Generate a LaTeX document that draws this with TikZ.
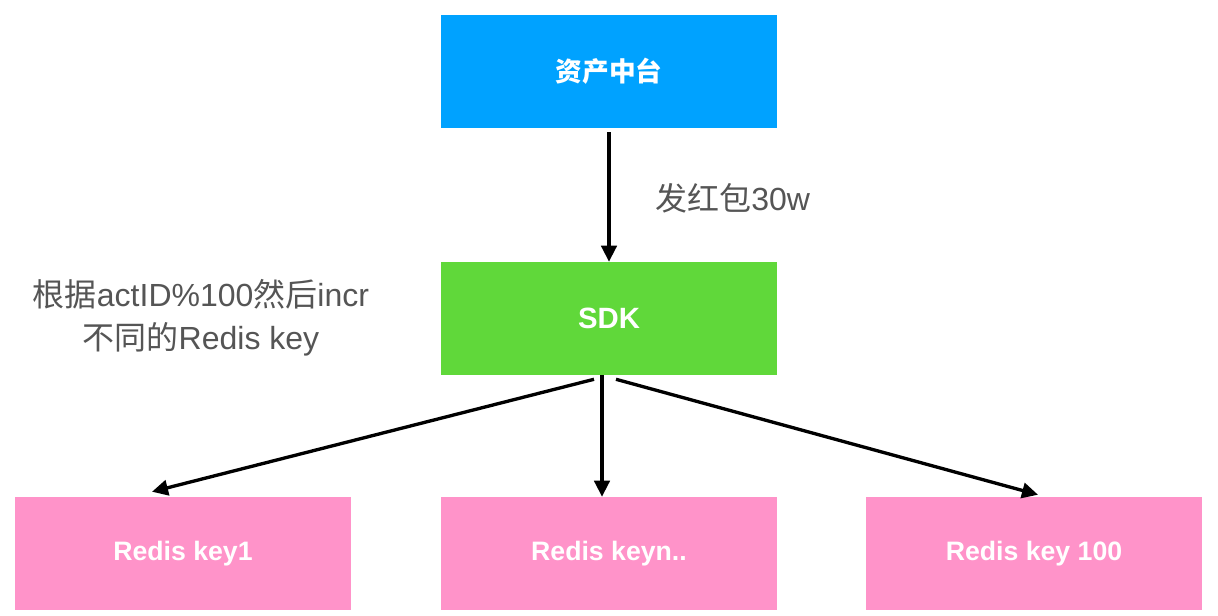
\documentclass[tikz,border=0pt]{standalone}
\usepackage{fontspec}
\setmainfont{Liberation Sans}
\newfontfamily\cjk{Noto Sans CJK SC}
\usetikzlibrary{arrows.meta,calc}
\definecolor{topblue}{RGB}{0,162,255}
\definecolor{sdkgreen}{RGB}{96,216,58}
\definecolor{keypink}{RGB}{255,147,201}
\definecolor{labelgray}{RGB}{85,85,85}
\tikzset{
  box/.style={minimum width=252pt, minimum height=84.75pt, inner sep=0pt, text=white, font=\bfseries\fontsize{20}{24}\selectfont},
  flow/.style={line width=2.5pt, -{Triangle[length=12pt,width=11.5pt]}},
  lbl/.style={text=labelgray, font=\fontsize{24}{32}\selectfont, inner sep=0pt}
}
\begin{document}
\begin{tikzpicture}[x=0.75pt,y=-0.75pt]
\useasboundingbox[fill=white] (0,0) rectangle (1218,615);
\node[box, fill=topblue] (top) at (609,71.5) {{\cjk\bfseries 资产中台}};
\node[box, fill=sdkgreen, font=\bfseries\fontsize{22}{26}\selectfont] (sdk) at (609,318.5) {SDK};
\node[box, fill=keypink] (k1) at (183,553.5) {Redis key1};
\node[box, fill=keypink] (kn) at (609,553.5) {Redis keyn..};
\node[box, fill=keypink] (k100) at (1034,553.5) {Redis key 100};
\draw[flow] ($(top.south)+(0,4)$) -- (sdk.north);
\node[lbl, anchor=west] (send) at (655,198) {{\cjk 发红包}30w};
\node[lbl, align=center] (note) at (201,318) {{\cjk 根据}actID\%100{\cjk 然后}incr\\{\cjk 不同的}Redis key};
\draw[flow] ($(sdk.south)+(-15,4)$) -- ($(k1.north)+(-31,-5)$);
\draw[flow] ($(sdk.south)+(-7,0)$) -- ($(kn.north)+(-7,0)$);
\draw[flow] ($(sdk.south)+(7,4)$) -- ($(k100.north)+(4,-2)$);
\end{tikzpicture}
\end{document}
